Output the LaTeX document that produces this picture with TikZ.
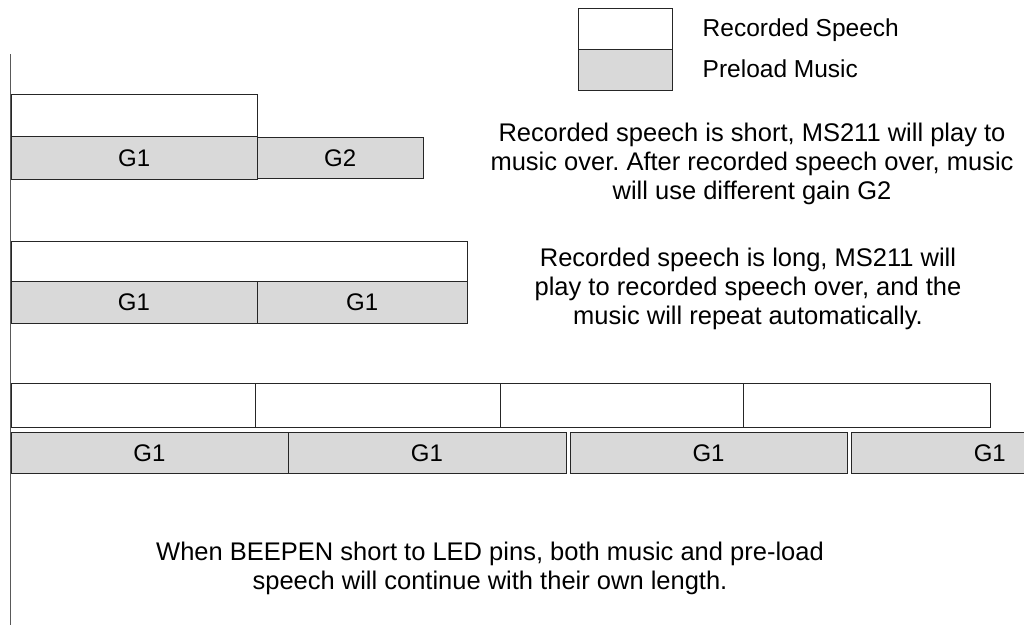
\documentclass[tikz,border=0pt]{standalone}
\usepackage{fontspec}
\setmainfont{Liberation Sans}
\frenchspacing
\begin{document}
\begin{tikzpicture}[x=1pt,y=-1pt,
  seg/.style={draw=black!85, line width=0.9pt, inner sep=0pt, outer sep=0pt, anchor=north west, font=\fontsize{24}{28}\selectfont},
  speech/.style={seg, fill=white},
  music/.style={seg, fill=black!15},
  desc/.style={align=center, inner sep=0pt, font=\fontsize{25.5}{29}\selectfont},
  legtext/.style={anchor=base west, inner sep=0pt, font=\fontsize{24.5}{28.8}\selectfont}]
\clip (0,0) rectangle (1024,627);
\useasboundingbox (0,0) rectangle (1024,627);
% time axis
\coordinate (axtop) at (10.5,54);
\coordinate (axbot) at (10.5,625);
\draw[black!65, line width=1.4pt] (axtop) -- (axbot);
% legend
\node[speech, minimum width=94pt, minimum height=41.5pt] (legS) at (578.7,8.3) {};
\node[music, minimum width=94pt, minimum height=41pt] (legM) at (578.7,49.8) {};
\node[legtext] (legSt) at (702.5,36.7) {Recorded Speech};
\node[legtext] (legMt) at (702.5,77.5) {Preload Music};
% row 1
\node[speech, minimum width=246.5pt, minimum height=42pt] (s1) at (11,94.5) {};
\node[music, minimum width=246.5pt, minimum height=42.5pt] (m1a) at (11,136.5) {G1};
\node[music, minimum width=165.5pt, minimum height=41.5pt] (m1b) at (257.5,137.3) {G2};
\node[desc] (d1) at (752,163.5) {Recorded speech is short, MS211 will play to\\music over. After recorded speech over, music\\will use different gain G2};
% row 2
\node[speech, minimum width=456.5pt, minimum height=40pt] (s2) at (11,241.7) {};
\node[music, minimum width=246pt, minimum height=41.6pt] (m2a) at (11,281.7) {G1};
\node[music, minimum width=210.5pt, minimum height=41.6pt] (m2b) at (257,281.7) {G1};
\node[desc] (d2) at (748,289) {Recorded speech is long, MS211 will\\play to recorded speech over, and the\\music will repeat automatically.};
% row 3
\node[speech, minimum width=244pt, minimum height=43.5pt] (s3a) at (11,383.7) {};
\node[speech, minimum width=245pt, minimum height=43.5pt] (s3b) at (255,383.7) {};
\node[speech, minimum width=243pt, minimum height=43.5pt] (s3c) at (500,383.7) {};
\node[speech, minimum width=247pt, minimum height=43.5pt] (s3d) at (743,383.7) {};
\node[music, minimum width=277pt, minimum height=41.5pt] (m3a) at (11,432.3) {G1};
\node[music, minimum width=278pt, minimum height=41.5pt] (m3b) at (288,432.3) {G1};
\node[music, minimum width=277pt, minimum height=41.5pt] (m3c) at (570,432.3) {G1};
\node[music, minimum width=277pt, minimum height=41.5pt] (m3d) at (851.3,432.3) {G1};
\node[desc] (d3) at (490,568) {When BEEPEN short to LED pins, both music and pre-load\\speech will continue with their own length.};
\end{tikzpicture}
\end{document}
